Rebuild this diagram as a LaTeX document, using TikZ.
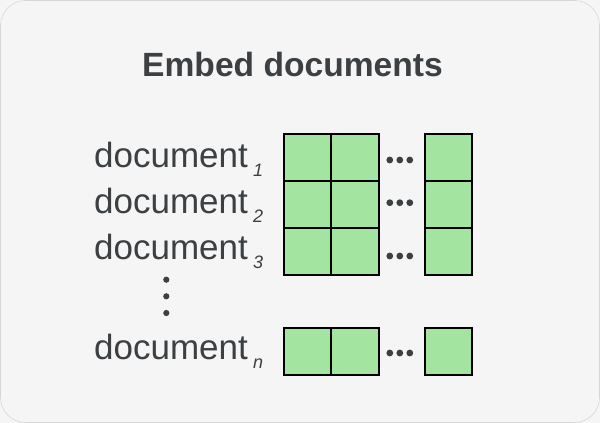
\documentclass[tikz,border=0pt]{standalone}
\usepackage{fontspec}
\setmainfont{Liberation Sans}
\definecolor{bg}{HTML}{F5F5F5}
\definecolor{frame}{HTML}{D6D6D6}
\definecolor{ink}{HTML}{3C4043}
\definecolor{cellgreen}{HTML}{A3E4A0}
\tikzset{
  cell/.style={draw=black, line width=1.6pt, fill=cellgreen, minimum width=47.5pt, minimum height=47pt, inner sep=0pt},
  doclabel/.style={anchor=base west, inner sep=0pt, text=ink, font=\fontsize{35}{42}\selectfont},
  sublabel/.style={anchor=base west, inner sep=0pt, text=ink, font=\fontsize{18}{20}\selectfont\itshape},
  dot/.style={circle, fill=ink, inner sep=0pt, minimum size=6.8pt},
  vdot/.style={circle, fill=ink, inner sep=0pt, minimum size=6.2pt}
}
\begin{document}
\begin{tikzpicture}[x=1pt,y=-1pt]
\useasboundingbox (0,0) rectangle (600,423);
\fill[bg] (0,0) rectangle (600,423);
\draw[frame, line width=0.6pt, rounded corners=25pt] (0.5,0.5) rectangle (599.5,422.5);

\node[anchor=base, inner sep=0pt, text=ink, font=\fontsize{33.6}{40}\selectfont\bfseries] (title) at (292.5,76) {Embed documents};

% labels
\node[doclabel] (d1) at (94,167) {document};
\node[sublabel] (s1) at (253,176) {1};
\node[doclabel] (d2) at (94,213) {document};
\node[sublabel] (s2) at (253,222) {2};
\node[doclabel] (d3) at (94,259) {document};
\node[sublabel] (s3) at (253,268) {3};
\node[doclabel] (dn) at (94,359) {document};
\node[sublabel] (sn) at (253,368) {n};

% vertical dots
\node[vdot] (v1) at (166.3,279.7) {};
\node[vdot] (v2) at (166.3,296.3) {};
\node[vdot] (v3) at (166.3,313) {};

% cells
\foreach \r/\y in {1/157.5,2/204.5,3/251.5,n/351.5}{
  \node[cell] (c\r a) at (307.5,\y) {};
  \node[cell] (c\r b) at (355,\y) {};
  \node[cell] (c\r c) at (448.5,\y) {};
}

% horizontal dots
\foreach \r/\y in {1/160,2/202.7,3/256,n/353}{
  \node[dot] (h\r a) at (389.8,\y) {};
  \node[dot] (h\r b) at (399.8,\y) {};
  \node[dot] (h\r c) at (409.8,\y) {};
}
\end{tikzpicture}
\end{document}
